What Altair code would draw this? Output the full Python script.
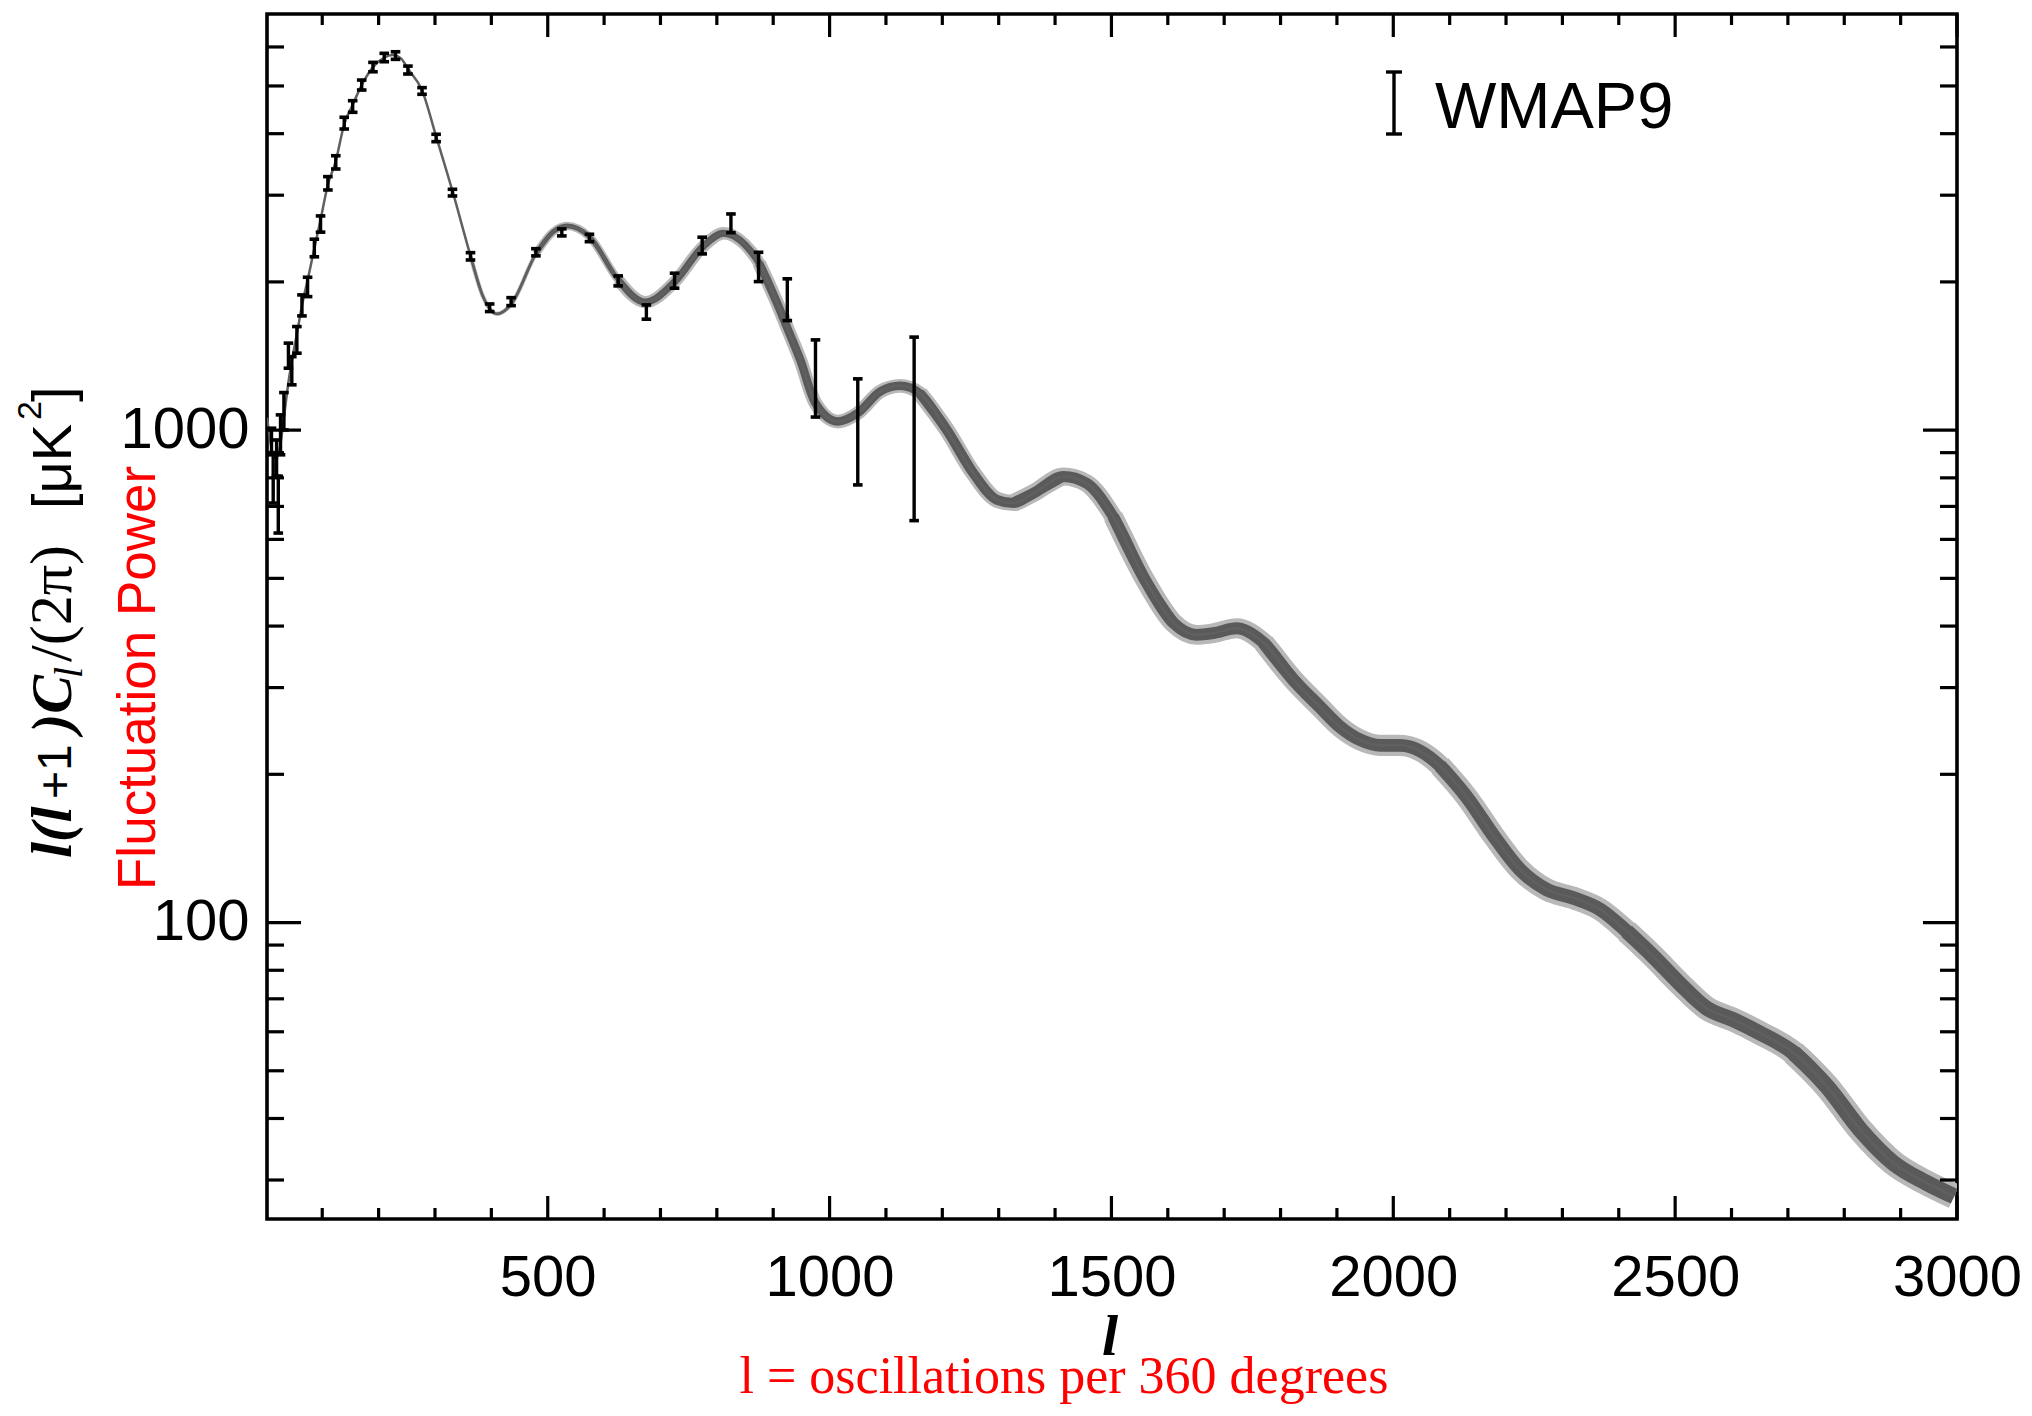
import altair as alt
import pandas as pd

# ---------------- data ----------------
# best-fit model curve: multipole l and D_l = l(l+1)C_l/(2pi) in uK^2
model_l = [2, 8, 14, 20, 26, 32, 40, 48, 56, 64, 75, 86, 96, 110, 124, 139, 154, 170, 190, 210, 225, 240, 252, 277, 302, 331,
           363, 385, 410, 435, 479, 510, 534, 574, 625, 673, 725, 774, 812, 850, 875, 912, 925, 948, 975, 1015, 1050, 1090, 1125, 1160,
           1208, 1255, 1297, 1326, 1362, 1415, 1456, 1503, 1563, 1610, 1651, 1681, 1722, 1770, 1823, 1870, 1905, 1941, 1977, 2012,
           2048, 2083, 2130, 2178, 2225, 2272, 2319, 2367, 2414, 2461, 2509, 2556, 2603, 2650, 2710, 2769, 2828, 2887, 2946, 2995]
model_dl = [1060, 950, 880, 880, 940, 1060, 1250, 1420, 1590, 1790, 2040, 2340, 2640, 3150, 3520, 4180, 4580, 5020, 5460, 5710, 5780, 5680, 5420, 4900, 3950, 3060,
            2260, 1870, 1722, 1800, 2280, 2530, 2598, 2470, 2020, 1820, 2000, 2350, 2511, 2380, 2183, 1755, 1612, 1389, 1134, 1041, 1083, 1198, 1230, 1189,
            1001, 818, 722, 711, 745, 805, 780, 668, 489, 406, 384, 387, 396, 370, 311, 274, 250, 235, 229, 229,
            223, 208, 180, 150, 128, 116.7, 112.2, 106.3, 96, 85.4, 75, 67, 63.5, 59.7, 54.4, 46.5, 38.0, 32.5, 29.6, 27.8]
# model uncertainty (percent) by l-range: inner (dark) and outer (light) band
band_from_l = [363, 510, 673, 912, 1208, 1362, 1563, 1823, 2130, 2461, 2769]
band_inner = [0.5, 1.0, 1.5, 1.8, 2.1, 2.3, 2.5, 2.7, 2.9, 3.2, 3.4]
band_outer = [0.9, 1.75, 2.6, 2.9, 3.4, 3.8, 4.2, 4.5, 4.8, 5.1, 5.4]

# WMAP9 band powers (error bar ends)
wmap_l = [10, 13, 19, 22, 26, 32, 40, 46, 55, 64, 74, 86, 97, 110, 124, 139, 154, 170, 190, 210, 230, 252, 277, 302, 331, 363,
          397, 435, 479, 525, 574, 625, 675, 725, 774, 825, 874, 925, 975, 1050, 1150]
wmap_lo = [891, 711, 806, 618, 891, 1001, 1336, 1236, 1433, 1706, 1867, 2249, 2524, 3074, 3391, 4088, 4420, 4906, 5343, 5600, 5662, 5287, 4809, 3853, 2989, 2216,
           1741, 1790, 2259, 2480, 2414, 1963, 1680, 1942, 2280, 2518, 2003, 1669, 1063, 774, 655]
wmap_hi = [1009, 900, 955, 806, 1074, 1192, 1502, 1410, 1623, 1882, 2044, 2442, 2723, 3272, 3608, 4319, 4667, 5140, 5583, 5824, 5867, 5487, 4961, 3989, 3084, 2293,
           1804, 1858, 2336, 2563, 2499, 2057, 1796, 2083, 2465, 2748, 2297, 2029, 1525, 1271, 1545]

x_major = [500, 1000, 1500, 2000, 2500, 3000]
x_minor = [v for v in range(100, 3000, 100) if v % 500 != 0]
y_major = [100, 1000]
y_minor = [30, 40, 50, 60, 70, 80, 90, 200, 300, 400, 500, 600, 700, 800, 900, 2000, 3000, 4000, 5000, 6000]

# ---------------- tables ----------------
model = pd.DataFrame({"l": model_l, "dl": model_dl})
wmap = pd.DataFrame({"l": wmap_l, "lo": wmap_lo, "hi": wmap_hi})

# band segments: each l-range overlaps its neighbours by one model point on each side
rows = []
n = len(model_l)
for i, start in enumerate(band_from_l):
    end = band_from_l[i + 1] if i + 1 < len(band_from_l) else model_l[-1]
    a = model_l.index(start)
    b = model_l.index(end)
    a = max(a - 1, 0) if i > 0 else a
    b = min(b + 1, n - 1)
    for k in range(a, b + 1):
        rows.append({"l": model_l[k], "dl": model_dl[k], "seg": i, "s1": band_inner[i], "s2": band_outer[i]})
band = pd.DataFrame(rows)

# ---------------- chart ----------------
W, H = 1690, 1205
SANS = "Liberation Sans"
SERIF = "Liberation Serif"

xs = alt.Scale(domain=[2, 3000], nice=False, zero=False)
ys = alt.Scale(type="log", domain=[25, 7000], nice=False)
X_AX = alt.Axis(values=x_major, format="d", ticks=False, tickSize=0, domain=False, grid=False,
                labelFontSize=58, labelFont=SANS, labelColor="black", labelPadding=30,
                labelFlush=False, labelOverlap=False, title=None)
Y_AX = alt.Axis(values=y_major, format="d", ticks=False, tickSize=0, domain=False, grid=False,
                labelFontSize=58, labelFont=SANS, labelColor="black", labelPadding=18,
                labelOverlap=False, title=None)

X = alt.X("l:Q", scale=xs, axis=X_AX)
Y = alt.Y("dl:Q", scale=ys, axis=Y_AX)
width_scale = alt.Scale(domain=[0, 6], range=[0, 28.3])

outer = alt.Chart(band).mark_line(color="#b8b8b8", interpolate="monotone", strokeCap="butt", clip=True).encode(
    x=X, y=Y, detail="seg:N",
    strokeWidth=alt.StrokeWidth("s2:Q", scale=width_scale, legend=None))
inner = alt.Chart(band).mark_line(color="#5a5a5a", interpolate="monotone", strokeCap="butt", clip=True).encode(
    x=X, y=Y, detail="seg:N",
    strokeWidth=alt.StrokeWidth("s1:Q", scale=width_scale, legend=None))
center = alt.Chart(model).mark_line(color="#606060", strokeWidth=2.5, interpolate="monotone", clip=True).encode(
    x=X, y=Y)

bars = alt.Chart(wmap).mark_rule(color="black", strokeWidth=3.4).encode(
    x=X, y=alt.Y("lo:Q", scale=ys, axis=Y_AX), y2="hi:Q")
cap_hi = alt.Chart(wmap).mark_rule(color="black", strokeWidth=3.6, xOffset=-4.8, x2Offset=4.8).encode(
    x=X, x2="l:Q", y=alt.Y("hi:Q", scale=ys, axis=Y_AX))
cap_lo = alt.Chart(wmap).mark_rule(color="black", strokeWidth=3.6, xOffset=-4.8, x2Offset=4.8).encode(
    x=X, x2="l:Q", y=alt.Y("lo:Q", scale=ys, axis=Y_AX))

# inward ticks on all four sides
def xticks(vals, length):
    df = pd.DataFrame({"v": vals})
    xv = alt.X("v:Q", scale=xs, axis=X_AX)
    bot = alt.Chart(df).mark_rule(color="black", strokeWidth=3.2).encode(x=xv, y=alt.value(H), y2=alt.value(H - length))
    top = alt.Chart(df).mark_rule(color="black", strokeWidth=3.2).encode(x=xv, y=alt.value(0), y2=alt.value(length))
    return [bot, top]

def yticks(vals, length):
    df = pd.DataFrame({"v": vals})
    yv = alt.Y("v:Q", scale=ys, axis=Y_AX)
    left = alt.Chart(df).mark_rule(color="black", strokeWidth=3.2).encode(y=yv, x=alt.value(0), x2=alt.value(length))
    right = alt.Chart(df).mark_rule(color="black", strokeWidth=3.2).encode(y=yv, x=alt.value(W), x2=alt.value(W - length))
    return [left, right]

ticks = xticks(x_major, 23) + xticks(x_minor, 11) + yticks(y_major, 34) + yticks(y_minor, 17)

one = pd.DataFrame({"t": [0]})

def txt(s, x, y, size, font=SANS, color="black", angle=0, align="left", style="normal", weight="normal"):
    return alt.Chart(one).mark_text(text=s, font=font, fontSize=size, color=color, angle=angle, align=align,
                                    fontStyle=style, fontWeight=weight, baseline="alphabetic").encode(
        x=alt.value(x), y=alt.value(y))

BX = -196
labels = [
    # y axis titles (rotated)
    txt("Fluctuation Power", -112, 876, 53, color="#ff0000", angle=270),
    txt("l(l", BX, 844, 58, font=SERIF, angle=270, style="italic", weight="bold"),
    txt("+1", BX, 785, 48, angle=270),
    txt(")C", BX, 719, 58, font=SERIF, angle=270, style="italic", weight="bold"),
    txt("l", BX + 11, 664, 40, font=SERIF, angle=270, style="italic"),
    txt("/(2π)", BX, 648, 60, font=SERIF, angle=270),
    txt("[μK", BX, 495, 56, angle=270),
    txt("2", BX - 30, 406, 34, angle=270),
    txt("]", BX, 388, 56, angle=270),
    # x axis titles
    txt("l", 843, 1341, 58, font=SERIF, align="center", style="italic", weight="bold"),
    txt("l = oscillations per 360 degrees", 797, 1379, 52, font=SERIF, color="#ff0000", align="center"),
    # legend
    txt("WMAP9", 1168, 114, 65),
]

leg_bar = alt.Chart(one).mark_rule(color="black", strokeWidth=3.4).encode(
    x=alt.value(1127), y=alt.value(58), y2=alt.value(120))
leg_top = alt.Chart(one).mark_rule(color="black", strokeWidth=3.4).encode(
    x=alt.value(1119), x2=alt.value(1135), y=alt.value(58))
leg_bot = alt.Chart(one).mark_rule(color="black", strokeWidth=3.4).encode(
    x=alt.value(1119), x2=alt.value(1135), y=alt.value(120))

chart = alt.layer(
    outer, inner, center, bars, cap_hi, cap_lo, *ticks, *labels, leg_bar, leg_top, leg_bot
).properties(
    width=W, height=H,
    background="white",
    autosize=alt.AutoSizeParams(type="none"),
    padding={"left": 259, "top": 6, "right": 64, "bottom": 185},
).configure_view(
    stroke="black", strokeWidth=3.6
)

chart.save("out.html", embed_options={"renderer": "svg", "actions": False})
